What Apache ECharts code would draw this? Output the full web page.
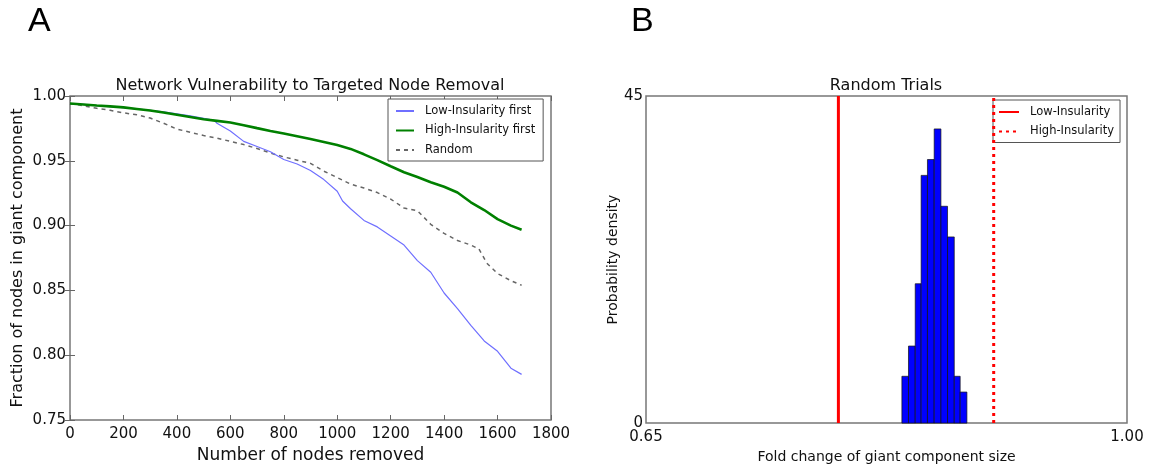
<!DOCTYPE html>
<html>
<head>
<meta charset="utf-8">
<script src="https://cdn.jsdelivr.net/npm/echarts@6/dist/echarts.min.js"></script>
<style>html,body{margin:0;padding:0;background:#fff}#chart{width:1153px;height:469px}</style>
</head>
<body>
<div id="chart"></div>
<script>
// ---- Panel A data ----
const lowNodes = [0,50,100,150,200,250,300,350,400,450,500,540,550,600,650,700,750,800,850,900,950,1000,1020,1050,1100,1150,1200,1250,1300,1350,1400,1450,1500,1550,1600,1650,1690];
const lowFraction = [0.9942,0.9935,0.9926,0.9918,0.9910,0.9900,0.9890,0.9877,0.9862,0.9846,0.9828,0.9812,0.9790,0.9730,0.9650,0.9610,0.9570,0.9510,0.9475,0.9425,0.9355,0.9265,0.9190,0.9130,0.9040,0.8990,0.8920,0.8850,0.8730,0.8640,0.8480,0.8360,0.8230,0.8110,0.8030,0.7900,0.7852];
const highNodes = [0,50,100,150,200,250,300,350,400,450,500,550,600,650,700,750,800,850,900,950,1000,1050,1100,1150,1200,1250,1300,1350,1400,1450,1500,1550,1600,1650,1690];
const highFraction = [0.9942,0.9935,0.9927,0.9920,0.9912,0.9900,0.9888,0.9872,0.9855,0.9838,0.9820,0.9808,0.9795,0.9775,0.9752,0.9730,0.9710,0.9690,0.9668,0.9645,0.9622,0.9592,0.9550,0.9505,0.9458,0.9412,0.9375,0.9335,0.9300,0.9255,0.9180,0.9120,0.9050,0.9000,0.8968];
const randomNodes = [0,50,100,150,200,250,300,350,400,450,500,550,600,650,700,750,800,850,900,950,1000,1050,1100,1150,1200,1250,1300,1350,1400,1450,1500,1530,1560,1600,1650,1690];
const randomFraction = [0.9942,0.9925,0.9905,0.9890,0.9870,0.9855,0.9830,0.9790,0.9745,0.9720,0.9695,0.9675,0.9650,0.9625,0.9595,0.9560,0.9530,0.9505,0.9480,0.9420,0.9370,0.9320,0.9290,0.9255,0.9205,0.9135,0.9115,0.9010,0.8940,0.8885,0.8850,0.8820,0.8710,0.8630,0.8575,0.8540];

// ---- Panel B data ----
const binEdges = [0.8362,0.8410,0.8459,0.8502,0.8548,0.8597,0.8646,0.8694,0.8743,0.8786,0.8835];
const binDensity = [6.44,10.6,19.17,34.08,36.26,40.47,29.83,25.61,6.44,4.27];
const lowInsularityFold = 0.790;
const highInsularityFold = 0.903;
const densityRange = [0, 45];

const FONT = 'DejaVu Sans';
const pairs = (xs, ys) => xs.map((x, i) => [x, ys[i]]);
const histData = binDensity.map((h, i) => [binEdges[i], binEdges[i + 1], h]);

const tickStyle = { show: true, inside: true, length: 5, lineStyle: { color: '#666', width: 1 } };
const labelStyle = { color: '#111', fontSize: 15, fontFamily: FONT };

const chart = echarts.init(document.getElementById('chart'));
chart.setOption({
  animation: false,
  backgroundColor: '#fff',
  grid: [
    { left: 70, right: 602, top: 96, bottom: 42, show: true, borderColor: '#777', borderWidth: 1.5, backgroundColor: 'transparent' },
    { left: 646, right: 26, top: 96, bottom: 42, show: true, borderColor: '#777', borderWidth: 1.5, backgroundColor: 'transparent' }
  ],
  xAxis: [
    { gridIndex: 0, type: 'value', min: 0, max: 1800, interval: 200, position: 'bottom',
      axisLine: { show: false }, axisTick: tickStyle, splitLine: { show: false },
      axisLabel: Object.assign({ margin: 7, formatter: v => String(v) }, labelStyle),
      name: 'Number of nodes removed', nameLocation: 'middle', nameGap: 27,
      nameTextStyle: { color: '#111', fontSize: 17, fontFamily: FONT } },
    { gridIndex: 0, type: 'value', min: 0, max: 1800, interval: 200, position: 'top',
      axisLine: { show: false }, axisTick: tickStyle, splitLine: { show: false }, axisLabel: { show: false } },
    { gridIndex: 1, type: 'value', min: 0.65, max: 1.0, interval: 0.35, position: 'bottom',
      axisLine: { show: false }, axisTick: { show: false }, splitLine: { show: false },
      axisLabel: Object.assign({ margin: 7, formatter: v => v.toFixed(2) }, labelStyle),
      name: 'Fold change of giant component size', nameLocation: 'middle', nameGap: 21,
      nameTextStyle: { color: '#111', fontSize: 14, fontFamily: FONT } }
  ],
  yAxis: [
    { gridIndex: 0, type: 'value', min: 0.75, max: 1.0, interval: 0.05, position: 'left',
      axisLine: { show: false }, axisTick: tickStyle, splitLine: { show: false },
      axisLabel: Object.assign({ margin: 4, formatter: v => v.toFixed(2) }, labelStyle),
      name: 'Fraction of nodes in giant component', nameLocation: 'middle', nameGap: 44, nameRotate: 90,
      nameTextStyle: { color: '#111', fontSize: 16, fontFamily: FONT } },
    { gridIndex: 0, type: 'value', min: 0.75, max: 1.0, interval: 0.05, position: 'right',
      axisLine: { show: false }, axisTick: tickStyle, splitLine: { show: false }, axisLabel: { show: false } },
    { gridIndex: 1, type: 'value', min: densityRange[0], max: densityRange[1], interval: 45, position: 'left',
      axisLine: { show: false }, axisTick: { show: false }, splitLine: { show: false },
      axisLabel: Object.assign({ margin: 3 }, labelStyle),
      name: 'Probability density', nameLocation: 'middle', nameGap: 24, nameRotate: 90,
      nameTextStyle: { color: '#111', fontSize: 14, fontFamily: FONT } }
  ],
  legend: [
    { data: ['Low-Insularity first', 'High-Insularity first', 'Random'], orient: 'vertical',
      left: 388, top: 99, backgroundColor: '#fff', borderColor: '#555', borderWidth: 1,
      padding: [6, 8, 5, 7], itemWidth: 18, itemHeight: 10, itemGap: 7.5,
      itemStyle: { opacity: 0 },
      textStyle: { fontSize: 11.5, color: '#111', fontFamily: FONT, padding: [0, 0, 0, 6] } },
    { data: ['Low-Insularity', 'High-Insularity'], orient: 'vertical',
      left: 993, top: 100, backgroundColor: '#fff', borderColor: '#555', borderWidth: 1,
      padding: [6, 6, 5, 5], itemWidth: 20, itemHeight: 10, itemGap: 7.5,
      itemStyle: { opacity: 0 },
      textStyle: { fontSize: 11.5, color: '#111', fontFamily: FONT, padding: [0, 0, 0, 6] } }
  ],
  graphic: [
    { type: 'text', x: 28, y: 22, style: { text: 'A', fontSize: 34, fontFamily: 'Liberation Sans', fill: '#000', textVerticalAlign: 'middle' } },
    { type: 'text', x: 631, y: 22, style: { text: 'B', fontSize: 34, fontFamily: 'Liberation Sans', fill: '#000', textVerticalAlign: 'middle' } },
    { type: 'text', x: 310, y: 86, style: { text: 'Network Vulnerability to Targeted Node Removal', fontSize: 16, fontFamily: FONT, fill: '#111', textAlign: 'center', textVerticalAlign: 'middle' } },
    { type: 'text', x: 886, y: 86, style: { text: 'Random Trials', fontSize: 16, fontFamily: FONT, fill: '#111', textAlign: 'center', textVerticalAlign: 'middle' } }
  ],
  series: [
    { name: 'Random', type: 'line', xAxisIndex: 0, yAxisIndex: 0, symbol: 'none', z: 3,
      data: pairs(randomNodes, randomFraction),
      lineStyle: { color: '#666', width: 1.5, type: [4, 4] }, itemStyle: { color: '#666' } },
    { name: 'Low-Insularity first', type: 'line', xAxisIndex: 0, yAxisIndex: 0, symbol: 'none', z: 4,
      data: pairs(lowNodes, lowFraction),
      lineStyle: { color: '#6f6fff', width: 1.2 }, itemStyle: { color: '#6f6fff' } },
    { name: 'High-Insularity first', type: 'line', xAxisIndex: 0, yAxisIndex: 0, symbol: 'none', z: 5,
      data: pairs(highNodes, highFraction),
      lineStyle: { color: '#008000', width: 2.6 }, itemStyle: { color: '#008000' } },
    { name: 'Histogram', type: 'custom', xAxisIndex: 2, yAxisIndex: 2, data: histData, z: 3,
      renderItem: function (params, api) {
        const p0 = api.coord([api.value(0), api.value(2)]);
        const p1 = api.coord([api.value(1), 0]);
        return { type: 'rect', shape: { x: p0[0], y: p0[1], width: p1[0] - p0[0], height: p1[1] - p0[1] },
          style: { fill: '#0000ff', stroke: '#111', lineWidth: 0.7 } };
      } },
    { name: 'Low-Insularity', type: 'line', xAxisIndex: 2, yAxisIndex: 2, symbol: 'none', z: 4,
      data: [[lowInsularityFold, densityRange[0]], [lowInsularityFold, densityRange[1]]],
      lineStyle: { color: '#ff0000', width: 3 }, itemStyle: { color: '#ff0000' } },
    { name: 'High-Insularity', type: 'line', xAxisIndex: 2, yAxisIndex: 2, symbol: 'none', z: 4,
      data: [[highInsularityFold, densityRange[0]], [highInsularityFold, densityRange[1]]],
      lineStyle: { color: '#ff0000', width: 3, type: [3, 4] }, itemStyle: { color: '#ff0000' } }
  ]
});
</script>
</body>
</html>
